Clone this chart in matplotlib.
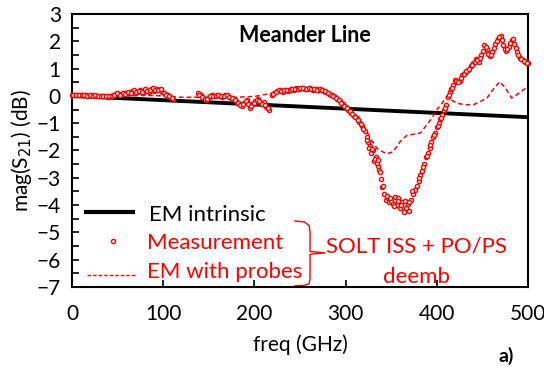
import numpy as np
import matplotlib
matplotlib.use("Agg")
from matplotlib import pyplot as plt
from matplotlib.ticker import MultipleLocator

plt.rcParams['font.family'] = ['Lato', 'DejaVu Sans']

# EM intrinsic (straight line)
em_freq = [0, 500]
em_intrinsic = [0.0, -0.78]

# Measurement (SOLT ISS + PO/PS deemb), 10 points per row
meas_freq = [0, 3, 6, 9, 12, 15, 18, 21, 24, 27,
             30, 33, 36, 39, 42, 45, 48, 51, 54, 57,
             60, 63, 66, 69, 72, 75, 78, 81, 84, 87,
             90, 93, 96, 99, 102, 105, 108, 111, 138, 141,
             144, 147, 150, 153, 156, 159, 162, 165, 168, 171,
             174, 177, 180, 183, 186, 189, 192, 195, 198, 201,
             204, 207, 210, 213, 216, 219, 222, 225, 228, 231,
             234, 237, 240, 243, 246, 249, 252, 255, 258, 261,
             264, 267, 270, 273, 276, 279, 282, 285, 288, 291,
             294, 297, 300, 303, 306, 309, 312, 315, 318, 321,
             323, 325, 327, 328, 330, 331, 333, 335, 337, 339,
             340, 342, 344, 346, 348, 350, 352, 354, 356, 358,
             360, 362, 364, 366, 368, 370, 372, 374, 376, 378,
             380, 382, 384, 386, 388, 390, 392, 394, 396, 398,
             400, 402, 404, 406, 408, 410, 412, 414, 416, 418,
             420, 422, 425, 428, 431, 434, 437, 440, 443, 446,
             449, 452, 455, 458, 461, 464, 467, 470, 473, 476,
             479, 482, 485, 488, 491, 494, 497, 500]
meas_s21 = [0.03, 0.03, 0.02, 0.03, 0.02, 0.02, 0.01, 0.02, 0.01, 0.0,
            0.01, 0.0, -0.01, -0.03, -0.02, 0.03, 0.06, 0.08, 0.07, 0.1,
            0.09, 0.12, 0.17, 0.1, 0.14, 0.2, 0.12, 0.22, 0.15, 0.24,
            0.18, 0.26, 0.2, 0.16, 0.08, 0.02, -0.05, -0.1, 0.1, 0.02,
            -0.08, -0.15, -0.05, 0.02, -0.02, 0.03, 0.01, -0.03, 0.02, -0.01,
            -0.06, -0.1, -0.2, -0.3, -0.38, -0.25, -0.15, -0.45, -0.3, -0.2,
            -0.12, -0.3, -0.22, -0.4, -0.5, 0.02, 0.12, 0.17, 0.2, 0.16,
            0.22, 0.18, 0.24, 0.22, 0.28, 0.25, 0.3, 0.27, 0.26, 0.3,
            0.22, 0.25, 0.2, 0.22, 0.17, 0.15, 0.08, 0.02, -0.05, -0.12,
            -0.2, -0.3, -0.4, -0.5, -0.62, -0.72, -0.82, -0.95, -1.1, -1.3,
            -1.5, -1.7, -1.85, -2.1, -2.0, -2.4, -2.25, -2.55, -2.7, -3.05,
            -3.35, -3.6, -3.8, -3.75, -3.9, -3.85, -3.95, -3.7, -4.0, -3.75,
            -4.1, -3.9, -4.25, -4.1, -3.95, -4.2, -3.8, -3.6, -3.45, -3.3,
            -3.1, -2.9, -2.75, -2.5, -2.25, -2.1, -1.9, -1.7, -1.5, -1.35,
            -1.15, -1.0, -0.85, -0.7, -0.5, -0.35, -0.05, 0.15, 0.25, 0.4,
            0.6, 0.5, 0.55, 0.75, 0.85, 0.95, 1.1, 1.2, 1.35, 1.25,
            1.5, 1.85, 1.7, 1.45, 1.6, 1.9, 2.1, 2.2, 1.85, 1.65,
            1.8, 2.05, 1.9, 1.6, 1.4, 1.3, 1.25, 1.2]

# more measurement points (in between the ones above)
meas_freq_b = [1.5, 4.5, 7.5, 10.5, 13.5, 16.5, 19.5, 22.5, 25.5, 28.5,
               31.5, 34.5, 37.5, 40.5, 43.5, 46.5, 49.5, 52.5, 55.5, 58.5,
               61.5, 64.5, 67.5, 70.5, 73.5, 76.5, 79.5, 82.5, 85.5, 88.5,
               91.5, 94.5, 97.5, 100.5, 103.5, 106.5, 109.5,
               139.5, 142.5, 145.5, 148.5, 151.5, 154.5, 157.5, 160.5, 163.5, 166.5,
               169.5, 172.5, 175.5, 178.5, 181.5, 184.5, 187.5, 190.5, 193.5, 196.5,
               199.5, 202.5, 205.5, 208.5, 211.5, 214.5,
               220.5, 223.5, 226.5, 229.5, 232.5, 235.5, 238.5, 241.5, 244.5, 247.5,
               250.5, 253.5, 256.5, 259.5, 262.5, 265.5, 268.5, 271.5, 274.5, 277.5,
               280.5, 283.5, 286.5, 289.5, 292.5, 295.5, 298.5, 301.5, 304.5, 307.5,
               310.5, 313.5, 316.5, 319.5,
               324, 326, 329, 332, 334, 336, 338, 341, 345, 349,
               353, 357, 361, 365, 369, 373,
               381, 385, 389, 393, 397, 401, 405, 409, 413, 417, 421,
               423.5, 426.5, 429.5, 432.5, 435.5, 438.5, 441.5, 444.5, 447.5, 450.5,
               453.5, 456.5, 459.5, 462.5, 465.5, 468.5, 471.5, 474.5, 477.5, 480.5,
               483.5, 486.5, 489.5, 492.5, 495.5, 498.5]
meas_s21_b = [0.02, 0.04, 0.03, 0.02, 0.03, 0.01, 0.02, 0.0, 0.02, 0.01,
              -0.01, 0.01, -0.02, -0.01, 0.01, 0.05, 0.09, 0.05, 0.11, 0.07,
              0.14, 0.1, 0.2, 0.15, 0.18, 0.15, 0.25, 0.18, 0.2, 0.28,
              0.22, 0.21, 0.25, 0.12, 0.05, -0.02, -0.07,
              0.05, -0.03, -0.12, -0.1, 0.0, 0.0, 0.01, 0.05, -0.02, 0.0,
              0.03, -0.04, -0.08, -0.15, -0.25, -0.33, -0.3, -0.2, -0.3, -0.38,
              -0.25, -0.15, -0.2, -0.28, -0.32, -0.45,
              0.08, 0.15, 0.2, 0.18, 0.22, 0.2, 0.21, 0.26, 0.25, 0.27,
              0.28, 0.3, 0.24, 0.29, 0.27, 0.24, 0.23, 0.24, 0.2, 0.18,
              0.12, 0.04, 0.0, -0.08, -0.16, -0.25, -0.36, -0.45, -0.55, -0.68,
              -0.76, -0.9, -1.02, -1.2,
              -1.6, -1.9, -1.95, -2.3, -2.45, -2.35, -2.8, -3.3, -3.65, -3.75,
              -4.05, -3.85, -4.0, -3.85, -3.9, -3.5,
              -3.0, -2.6, -2.2, -1.8, -1.45, -1.1, -0.8, -0.45, 0.05, 0.3, 0.55,
              0.52, 0.65, 0.8, 0.9, 1.0, 1.15, 1.25, 1.3, 1.4, 1.65,
              1.8, 1.55, 1.5, 1.75, 2.0, 2.15, 2.05, 1.7, 1.7, 1.95,
              2.1, 1.75, 1.5, 1.35, 1.28, 1.22]

# EM with probes
probe_freq = [0, 20, 40, 60, 80, 100, 120, 140, 160, 180,
              200, 220, 240, 260, 280, 290, 300, 310, 320, 327,
              335, 345, 352, 360, 367, 375, 382, 389, 395, 400,
              405, 411, 416, 422, 430, 440, 448, 455, 462, 469,
              475, 482, 488, 494, 500]
probe_s21 = [0.0, 0.0, -0.02, 0.0, 0.02, 0.0, -0.05, -0.05, -0.05, -0.05,
             -0.02, 0.1, 0.2, 0.2, 0.05, -0.1, -0.35, -0.7, -1.1, -1.55,
             -1.95, -2.12, -2.05, -1.67, -1.45, -1.4, -1.36, -1.06, -0.8, -0.51,
             -0.3, -0.02, -0.15, -0.27, -0.32, -0.33, -0.2, -0.08, 0.25, 0.52,
             0.3, -0.08, 0.05, 0.2, 0.34]

all_freq = meas_freq + meas_freq_b
all_s21 = meas_s21 + meas_s21_b

fig = plt.figure(figsize=(5.44, 3.75), dpi=100)
ax = fig.add_axes([72/544, 1-287/375, 456/544, 273/375])

ax.plot(em_freq, em_intrinsic, color="black", lw=2.8, zorder=2)
ax.plot(probe_freq, probe_s21, color="red", lw=1.1, ls=(0, (3, 2)), zorder=3)
ax.plot(all_freq, all_s21, ls="none", marker="o", ms=3.0, mfc="white", mec="red",
        mew=1.0, zorder=4, clip_on=False)

ax.set_xlim(0, 500)
ax.set_ylim(-7, 3)
ax.xaxis.set_major_locator(MultipleLocator(100))
ax.yaxis.set_major_locator(MultipleLocator(1))
ax.yaxis.set_minor_locator(MultipleLocator(0.5))
ax.tick_params(which="both", direction="in", length=5, width=1.2, labelsize=15)
ax.tick_params(axis="x", pad=12)
ax.tick_params(axis="y", pad=8)
for s in ax.spines.values():
    s.set_linewidth(1.5)

ax.set_xlabel("freq (GHz)", fontsize=15, labelpad=8)
ax.set_ylabel("mag(S$_{21}$) (dB)", fontsize=15, labelpad=2)
ax.text(0.51, 0.92, "Meander Line", transform=ax.transAxes, ha="center",
        va="center", fontsize=15.5, fontweight="bold")

# hand-made legend
ax.plot([0.03, 0.134], [0.276, 0.276], color="black", lw=3, transform=ax.transAxes, clip_on=False)
ax.text(0.169, 0.265, "EM intrinsic", transform=ax.transAxes, va="center", fontsize=16)
ax.plot([0.089], [0.168], ls="none", marker="o", ms=3.0, mfc="white", mec="red", mew=1.0,
        transform=ax.transAxes)
ax.text(0.164, 0.16, "Measurement", transform=ax.transAxes, va="center", fontsize=16, color="red")
ax.plot([0.032, 0.138], [0.044, 0.044], color="red", lw=1, ls=(0, (2.5, 1.5)),
        transform=ax.transAxes)
ax.text(0.164, 0.056, "EM with probes", transform=ax.transAxes, va="center", fontsize=16, color="red")

# bracket
bx = [0.489, 0.51, 0.52, 0.522, 0.522, 0.555, 0.522, 0.522, 0.52, 0.51, 0.489]
by = [0.242, 0.238, 0.225, 0.2, 0.13, 0.125, 0.12, 0.03, 0.012, 0.006, 0.004]
ax.plot(bx, by, color="red", lw=1, transform=ax.transAxes, clip_on=False)
ax.text(0.756, 0.148, "SOLT ISS + PO/PS", transform=ax.transAxes, ha="center", va="center",
        fontsize=16, color="red")
ax.text(0.756, 0.038, "deemb", transform=ax.transAxes, ha="center", va="center",
        fontsize=16, color="red")

fig.text(0.93, 0.05, "a)", fontsize=14, fontweight="bold", ha="center", va="center")

fig.savefig("out.png", dpi=100)
